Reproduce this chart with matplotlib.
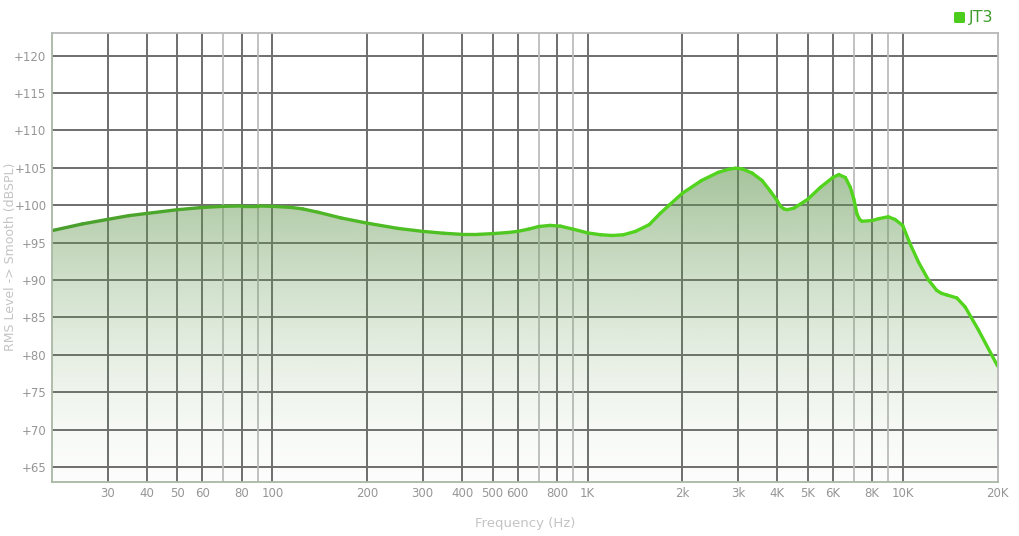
import matplotlib
matplotlib.use("Agg")
import matplotlib.pyplot as plt
import numpy as np
from matplotlib.collections import LineCollection
from matplotlib.colors import to_rgb
from matplotlib.patches import FancyBboxPatch

# frequency response (Hz, dB SPL)
freqs = [20, 25, 30, 35, 40, 50, 60, 70, 80, 90, 100, 115, 125, 140, 165,
         200, 250, 300, 350, 400, 450, 500, 560, 600, 650, 700, 760, 820,
         900, 1000, 1100, 1200, 1300, 1420, 1570, 1700, 1815, 2000, 2300,
         2600, 2800, 2950, 3100, 3330, 3580, 3800, 4000, 4090, 4200, 4300,
         4515, 5000, 5485, 6000, 6270, 6580, 6820, 7000, 7165, 7300, 7430,
         8000, 8400, 9000, 9450, 10000, 10540, 11220, 12070, 12830, 13300,
         13800, 14850, 15780, 17400, 20000]
levels = [96.6, 97.5, 98.1, 98.6, 98.9, 99.4, 99.7, 99.85, 99.9, 99.9, 99.85,
          99.7, 99.5, 99.05, 98.3, 97.6, 96.9, 96.5, 96.25, 96.1, 96.1, 96.2,
          96.35, 96.5, 96.8, 97.15, 97.3, 97.2, 96.8, 96.3, 96.05, 95.95,
          96.05, 96.5, 97.4, 98.9, 100.0, 101.6, 103.3, 104.4, 104.8, 104.95,
          104.85, 104.3, 103.3, 101.9, 100.6, 99.9, 99.5, 99.4, 99.6, 100.8,
          102.4, 103.7, 104.1, 103.7, 102.4, 100.8, 98.8, 98.1, 97.85, 97.95,
          98.2, 98.45, 98.1, 97.3, 94.9, 92.4, 90.0, 88.6, 88.2, 88.0, 87.6,
          86.4, 83.3, 78.5]

major_x = [30, 40, 50, 60, 80, 100, 200, 300, 400, 500, 600, 800, 1000,
           2000, 3000, 4000, 5000, 6000, 8000, 10000, 20000]
major_x_labels = ["30", "40", "50", "60", "80", "100", "200", "300", "400",
                  "500", "600", "800", "1K", "2k", "3k", "4K", "5K", "6K",
                  "8K", "10K", "20K"]
minor_x = [70, 90, 700, 900, 7000, 9000]
y_ticks = [65, 70, 75, 80, 85, 90, 95, 100, 105, 110, 115, 120]

series_name = "JT3"

x_min, x_max = 20, 20000
y_min, y_max = 63, 123

fig = plt.figure(figsize=(10.2, 5.36), dpi=100)
ax = fig.add_axes([0.051, 0.101, 0.927, 0.837])
ax.set_xscale("log")
ax.set_xlim(x_min, x_max)
ax.set_ylim(y_min, y_max)

# grid
for v in y_ticks:
    ax.axhline(v, color="#6e6e6e", lw=1.4, zorder=1)
for v in major_x[:-1]:
    ax.axvline(v, color="#6e6e6e", lw=1.4, zorder=1)
for v in minor_x:
    ax.axvline(v, color="#bdbdbd", lw=1.3, zorder=1)

# gradient fill under the curve
fx = np.array(freqs, dtype=float)
fy = np.array(levels, dtype=float)
yy = np.linspace(y_max, y_min, 400)
frac = np.clip((yy - y_min) / (105 - y_min), 0, 1)
alpha = 0.02 + 0.55 * frac ** 1.5
img = np.zeros((len(yy), 2, 4))
img[:, :, 0] = 97 / 255
img[:, :, 1] = 150 / 255
img[:, :, 2] = 79 / 255
img[:, :, 3] = alpha[:, None]
im = ax.imshow(img, extent=[x_min, x_max, y_min, y_max], aspect="auto",
               origin="upper", zorder=2, interpolation="bilinear")
poly = ax.fill_between(fx, fy, y_min, color="none", lw=0)
im.set_clip_path(poly.get_paths()[0], transform=ax.transData)

# curve with left-to-right colour shift
pts = np.column_stack([fx, fy]).reshape(-1, 1, 2)
segs = np.concatenate([pts[:-1], pts[1:]], axis=1)
c0 = np.array(to_rgb("#4a9e2e"))
c1 = np.array(to_rgb("#52d41e"))
t = np.log10(fx[:-1] / x_min) / np.log10(x_max / x_min)
t = np.clip(t * 1.6, 0, 1)
cols = [c0 + (c1 - c0) * k for k in t]
lc = LineCollection(segs, colors=cols, linewidths=2.4, zorder=4,
                    capstyle="round", joinstyle="round")
ax.add_collection(lc)

# axes styling
for side in ["top", "right"]:
    ax.spines[side].set_color("#b8b8b8")
for side in ["left", "bottom"]:
    ax.spines[side].set_color("#a9b8a4")
for s in ax.spines.values():
    s.set_linewidth(1.3)
    s.set_zorder(5)

ax.set_xticks(major_x)
ax.set_xticklabels(major_x_labels)
ax.xaxis.set_minor_locator(plt.NullLocator())
ax.set_yticks(y_ticks)
ax.set_yticklabels(["+%d" % v for v in y_ticks])
ax.tick_params(axis="both", length=0, labelsize=8.5, colors="#969696")
ax.tick_params(axis="x", pad=4)
ax.tick_params(axis="y", pad=4)

ax.set_xlabel("Frequency (Hz)", color="#c4c4c4", fontsize=9.5, labelpad=12)
fig.text(11 / 1020, 1 - 257 / 536, "RMS Level -> Smooth (dBSPL)",
         color="#c4c4c4", fontsize=9, rotation=90, ha="center", va="center")

# legend
fig.patches.append(FancyBboxPatch((954 / 1020, 1 - 23 / 536), 11 / 1020,
                                  11 / 536,
                                  boxstyle="round,pad=0,rounding_size=0.002",
                                  transform=fig.transFigure,
                                  facecolor="#4ccc1c", edgecolor="none"))
fig.text(969 / 1020, 1 - 17.5 / 536, series_name, color="#3f9c2c",
         fontsize=11.5, va="center", ha="left")

fig.savefig("out.png", dpi=100)
